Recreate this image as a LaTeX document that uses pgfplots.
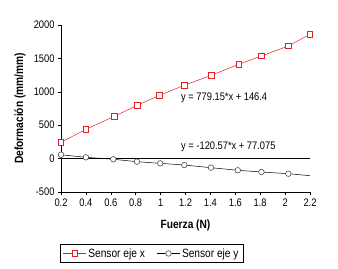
\documentclass[border=0pt]{standalone}
\usepackage{pgfplots}
\pgfplotsset{compat=1.18}
\usepackage{fontspec}
\setmainfont{Liberation Sans}[FakeStretch=0.85]
\definecolor{sred}{RGB}{228,30,38}
\newcommand{\fs}{\fontsize{11}{13}\selectfont}
\begin{document}
\begin{tikzpicture}
\useasboundingbox (0,0) rectangle (338bp,269bp);
\begin{axis}[
  at={(61bp,77bp)}, anchor=south west,
  scale only axis, width=249bp, height=167bp,
  xmin=0.2, xmax=2.2, ymin=-500, ymax=2000,
  axis lines*=left,
  xtick={0.2,0.4,0.6,0.8,1,1.2,1.4,1.6,1.8,2,2.2},
  xticklabels={0.2,0.4,0.6,0.8,1,1.2,1.4,1.6,1.8,2,2.2},
  ytick={-500,0,500,1000,1500,2000},
  yticklabels={-500,0,500,1000,1500,2000},
  tick align=outside,
  major tick length=3bp,
  tick style={black, line width=0.5pt},
  axis line style={black, line width=0.6pt},
  ticklabel style={font=\fs},
  /pgf/number format/assume math mode=true,
  xlabel={\textbf{Fuerza (N)}},
  ylabel={\textbf{Deformación (mm/mm)}},
  label style={font=\fontsize{12}{14}\selectfont},
  xlabel style={at={(axis description cs:0.5,-0.198)}, anchor=center},
  ylabel style={at={(axis description cs:-0.165,0.5)}, anchor=center},
  legend columns=2,
  legend style={at={(axis description cs:0.365,-0.368)}, anchor=center,
    draw=black, line width=0.6pt, font=\fontsize{12}{14}\selectfont,
    /tikz/every even column/.append style={column sep=10bp}},
  legend cell align=left,
  legend image code/.code={\draw[mark repeat=2,mark phase=2] plot coordinates {(0cm,0cm)(0.4cm,0cm)(0.8cm,0cm)};},
  clip=false,
]
\addplot[black, line width=0.6pt, no marks, forget plot] coordinates {(0.2,0) (2.2,0)};
\addplot[sred, line width=0.5pt, mark=square*, mark size=2.8pt,
  mark options={fill=white, draw=sred, line width=0.7pt}] coordinates {
(0.2,244) (0.4,438) (0.628,633) (0.813,798) (0.99,947) (1.19,1097)
(1.407,1247) (1.627,1411) (1.81,1536) (2.026,1686) (2.2,1861)};
\addlegendentry{Sensor eje x}
\addplot[black, line width=0.5pt, no marks, forget plot] coordinates {(2.026,-226) (2.2,-256)};
\addplot[black, line width=0.5pt, mark=*, mark size=2.8pt,
  mark options={fill=white, draw=black!70, line width=0.6pt}] coordinates {
(0.2,58) (0.4,19) (0.62,-10) (0.81,-46) (0.997,-71) (1.19,-96)
(1.405,-136) (1.62,-175) (1.81,-201) (2.026,-226)};
\addlegendentry{Sensor eje y}
\node[anchor=west, inner sep=0pt, font=\fs] at (axis cs:1.164,907) {y = 779.15*x + 146.4};
\node[anchor=west, inner sep=0pt, font=\fs] at (axis cs:1.164,178) {y = -120.57*x + 77.075};
\end{axis}
\end{tikzpicture}
\end{document}
